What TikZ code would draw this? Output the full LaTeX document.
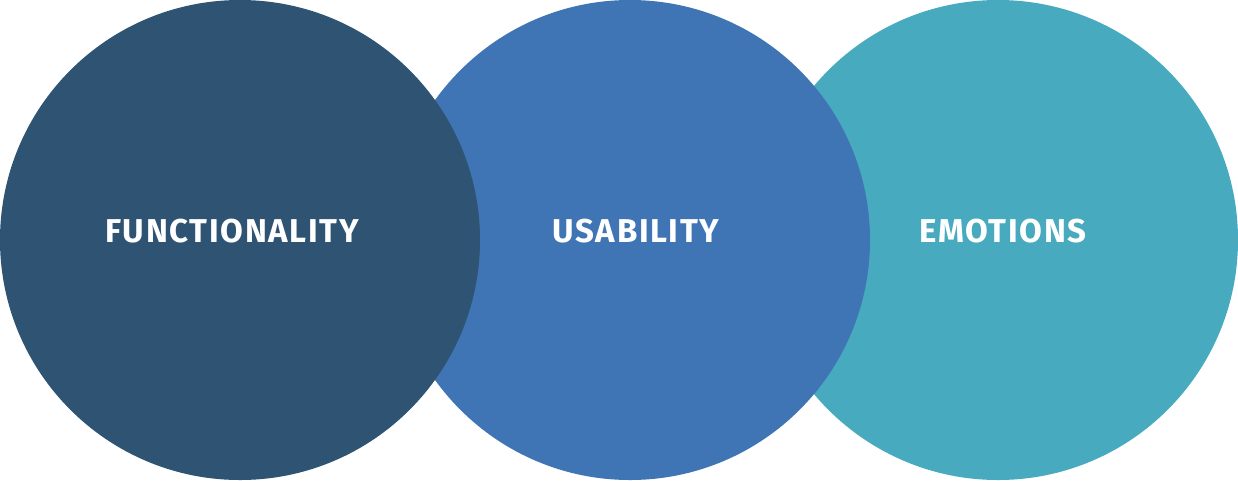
\documentclass[tikz,border=0pt]{standalone}
\usepackage{fontspec}
\setmainfont{Fira Sans}
\definecolor{cfunc}{HTML}{2F5373}
\definecolor{cusab}{HTML}{3F75B5}
\definecolor{cemot}{HTML}{47AABF}
\begin{document}
\begin{tikzpicture}[x=1pt,y=-1pt,
  disc/.style={circle,minimum size=480pt,inner sep=0pt,draw=none},
  lbl/.style={text=white,font=\fontsize{33}{36}\selectfont\bfseries\addfontfeatures{LetterSpace=5},anchor=base,inner sep=0pt}]
\useasboundingbox (0,0) rectangle (1238,480);
\node[disc,fill=cemot] (emot) at (998,240) {};
\node[disc,fill=cusab] (usab) at (630,240) {};
\node[disc,fill=cfunc] (func) at (240,240) {};
\node[lbl] (tf) at (232,242) {FUNCTIONALITY};
\node[lbl] (tu) at (636,242) {USABILITY};
\node[lbl] (te) at (1003,242) {EMOTIONS};
\end{tikzpicture}
\end{document}
